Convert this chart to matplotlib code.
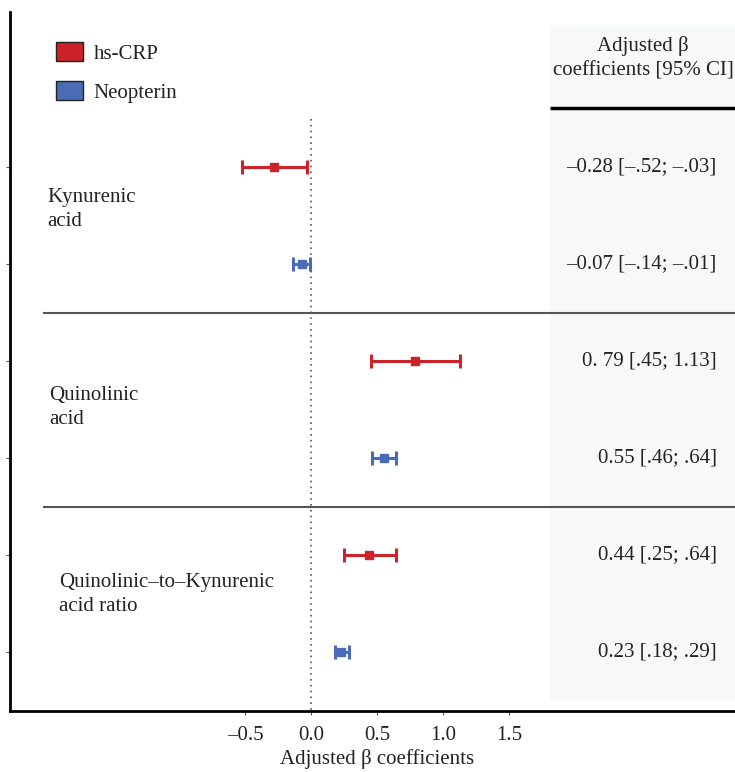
import numpy as np
import matplotlib.pyplot as plt
from matplotlib.patches import Patch, Rectangle

plt.rcParams['font.family'] = ['Liberation Serif', 'DejaVu Serif']

# data
groups = ["Kynurenic\nacid", "Quinolinic\nacid", "Quinolinic\u2013to\u2013Kynurenic\nacid ratio"]
markers_names = ["hs-CRP", "Neopterin"]
est = [-0.28, -0.07, 0.79, 0.55, 0.44, 0.23]
lo = [-0.52, -0.14, 0.45, 0.46, 0.25, 0.18]
hi = [-0.03, -0.01, 1.13, 0.64, 0.64, 0.29]
ci_text = ["\u20130.28 [\u2013.52; \u2013.03]", "\u20130.07 [\u2013.14; \u2013.01]",
           "0. 79 [.45; 1.13]", "0.55 [.46; .64]",
           "0.44 [.25; .64]", "0.23 [.18; .29]"]
xticks = [-0.5, 0.0, 0.5, 1.0, 1.5]
xtick_labels = ["\u20130.5", "0.0", "0.5", "1.0", "1.5"]

red = "#CC2229"
blue = "#4A6BB5"
colors = [red, blue] * 3
txt = "#222222"
fs = 15
ls_txt = 1.38  # line spacing of the two-line labels

fig = plt.figure(figsize=(7.35, 7.72), dpi=100)
ax = fig.add_axes([10 / 735, 1 - 711 / 772, 1 - 10 / 735, 699 / 772])

rows = np.arange(len(est))
ax.set_xlim(-2.28, 3.21)
ax.set_ylim(5.608, -1.598)

# shaded table panel
ax.add_patch(Rectangle((1.81, -1.464), 1.45, 6.97, facecolor="#F7F8F8",
                       edgecolor="none", zorder=0))

# zero reference line
ax.vlines(0, -0.5, 5.608, color="#555555", lw=1.2, linestyles=(0, (1, 2.5)), zorder=1)

# separators
for yy in [1.5, 3.5]:
    ax.plot([-2.03, 3.21], [yy, yy], color="#555555", lw=1.5, zorder=2,
            solid_capstyle="butt")
ax.plot([1.81, 3.21], [-0.608, -0.608], color="black", lw=2.5, zorder=2,
        solid_capstyle="butt")

for i in rows:
    ax.errorbar(est[i], i, xerr=[[est[i] - lo[i]], [hi[i] - est[i]]],
                fmt="s", color=colors[i], ms=6, lw=2.2, capsize=5,
                capthick=2.2, zorder=3)
    ax.text(3.07, i, ci_text[i], ha="right", va="center", fontsize=fs, color=txt)

ax.text(2.515, -1.12, "Adjusted \u03b2\ncoefficients [95% CI]", ha="center",
        va="center", fontsize=fs, color=txt, linespacing=ls_txt)

# group labels
ax.text(-2.00, 0.44, groups[0], ha="left", va="center", fontsize=fs,
        linespacing=ls_txt, color=txt)
ax.text(-1.98, 2.48, groups[1], ha="left", va="center", fontsize=fs,
        linespacing=ls_txt, color=txt)
ax.text(-1.91, 4.41, groups[2], ha="left", va="center", fontsize=fs,
        linespacing=ls_txt, color=txt)

ax.set_xticks(xticks)
ax.set_xticklabels(xtick_labels, fontsize=fs, color=txt)
ax.set_yticks(rows)
ax.set_yticklabels([])
ax.tick_params(axis="both", length=3, width=0.8, color="#555555")
ax.tick_params(axis="x", pad=8)

ax.text(0.5, -0.069, "Adjusted \u03b2 coefficients", transform=ax.get_xaxis_transform(),
        ha="center", va="center", fontsize=fs, color=txt)

for s in ["top", "right"]:
    ax.spines[s].set_visible(False)
for s in ["left", "bottom"]:
    ax.spines[s].set_linewidth(2)

handles = [Patch(facecolor=red, edgecolor="#222222", lw=1),
           Patch(facecolor=blue, edgecolor="#222222", lw=1)]
leg = ax.legend(handles, markers_names, loc="upper left",
                bbox_to_anchor=(0.0634, 0.957), frameon=False, fontsize=fs,
                handlelength=1.3, handleheight=1.0, labelspacing=0.85,
                handletextpad=0.5, borderpad=0, borderaxespad=0)
for t in leg.get_texts():
    t.set_color(txt)

fig.savefig("out.png", dpi=100)
